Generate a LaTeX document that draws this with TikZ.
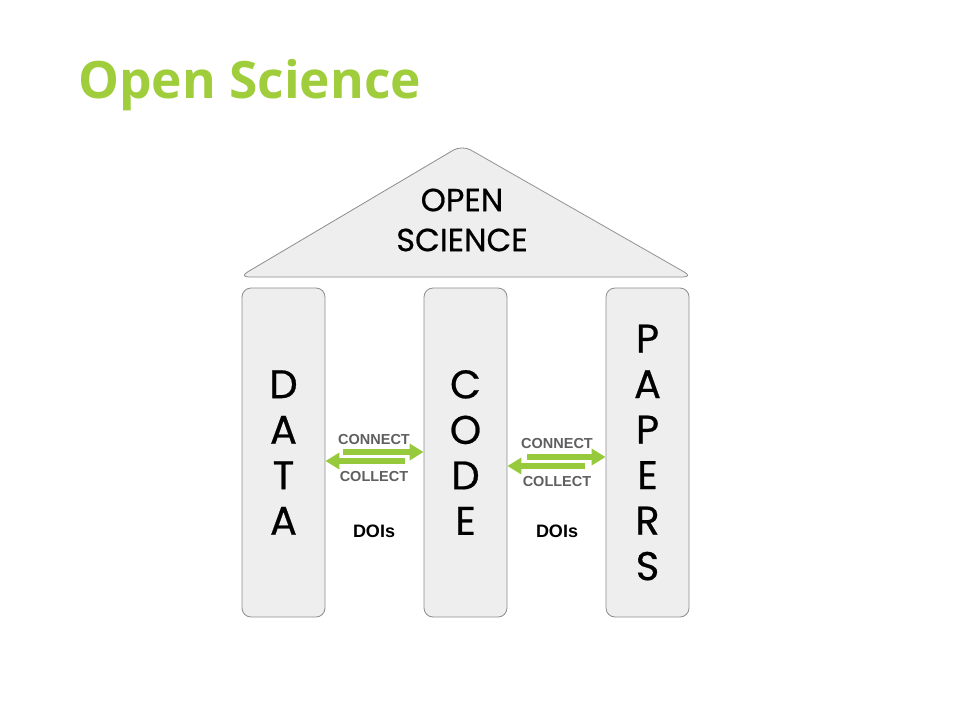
\documentclass[tikz,border=0pt]{standalone}
\usepackage{fontspec}
\setmainfont{Liberation Sans}
\newfontfamily\gothicfont{Poppins}[FakeBold=0.6]
\newfontfamily\titlefont{Open Sans}
\usepackage{tikz}
\usetikzlibrary{arrows.meta,positioning,calc}
\definecolor{scigreen}{RGB}{160,205,60}
\definecolor{linkgreen}{RGB}{150,202,60}
\definecolor{pillarfill}{RGB}{238,238,238}
\definecolor{pillarline}{RGB}{140,140,140}
\definecolor{labelgray}{RGB}{95,95,95}

\begin{document}
\begin{tikzpicture}[
    x=1pt, y=-1pt,
    pillar/.style={rectangle, draw=pillarline, fill=pillarfill, line width=0.8pt, minimum width=83pt, minimum height=329pt, rounded corners=9pt, align=center, inner sep=0pt, font={\gothicfont\fontsize{40}{45.5}\selectfont}},
    roofbox/.style={draw=pillarline, fill=pillarfill, line width=0.8pt, rounded corners=10pt},
    flow/.style={draw=linkgreen, line width=5.5pt, -{Triangle[length=14pt,width=16pt]}},
    tag/.style={font={\bfseries\fontsize{14.5}{16}\selectfont}, text=labelgray, inner sep=0pt},
    doi/.style={font={\bfseries\fontsize{18}{20}\selectfont}, inner sep=0pt}
]
\useasboundingbox (0,0) rectangle (960,720);

% ═══════════════════════════════════════════════════════════════
% Title
% ═══════════════════════════════════════════════════════════════
\node[anchor=base west, inner sep=0pt, text=scigreen, font={\titlefont\bfseries\fontsize{51.5}{60}\selectfont}] (title) at (78,98) {Open Science};

% ═══════════════════════════════════════════════════════════════
% Roof
% ═══════════════════════════════════════════════════════════════
\coordinate (rleft) at (239,277);
\coordinate (rtop) at (462,145);
\coordinate (rright) at (693,277);
\draw[roofbox] (rleft) -- (rtop) -- (rright) -- cycle;
\node[align=center, font={\gothicfont\fontsize{32}{40}\selectfont}] (roof) at (462,220) {OPEN\\SCIENCE};

% ═══════════════════════════════════════════════════════════════
% Pillars
% ═══════════════════════════════════════════════════════════════
\node[pillar] (data) at (283.5,452.5) {D\\A\\T\\A};
\node[pillar] (code) at (465.5,452.5) {C\\O\\D\\E};
\node[pillar] (papers) at (647.5,452.5) {P\\A\\P\\E\\R\\S};

% ═══════════════════════════════════════════════════════════════
% Links between pillars
% ═══════════════════════════════════════════════════════════════
% data <-> code
\coordinate (dcfwd) at (343,452);
\coordinate (dcback) at (405,461);
\draw[flow] (dcfwd) -- (dcfwd -| code.west);
\draw[flow] (dcback) -- (dcback -| data.east);
\node[tag] (dcconnect) at (374,440) {CONNECT};
\node[tag] (dccollect) at (374,477) {COLLECT};
\node[doi] (dcdoi) at (374,531) {DOIs};

% code <-> papers
\coordinate (cpfwd) at (527,457);
\coordinate (cpback) at (585,466);
\draw[flow] (cpfwd) -- (cpfwd -| papers.west);
\draw[flow] (cpback) -- (cpback -| code.east);
\node[tag] (cpconnect) at (557,444) {CONNECT};
\node[tag] (cpcollect) at (557,482) {COLLECT};
\node[doi] (cpdoi) at (557,531) {DOIs};

\end{tikzpicture}
\end{document}
